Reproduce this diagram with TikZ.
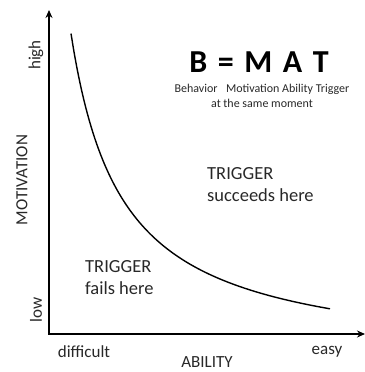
\documentclass[tikz,border=0pt]{standalone}
\usepackage{fontspec}
\setmainfont{Carlito}
\usepackage{xcolor}
\usepackage{tikz}
\usetikzlibrary{arrows.meta, positioning}
\definecolor{inkgray}{RGB}{40,40,40}

\tikzset{
    axisline/.style={line width=1.5pt, draw=black},
    axislabel/.style={font=\fontsize{17}{20}\selectfont, text=inkgray, inner sep=0pt},
    zone/.style={font=\fontsize{18.5}{22}\selectfont, text=inkgray, align=left, inner sep=0pt}
}

\begin{document}
\begin{tikzpicture}[x=1pt, y=1pt]
\useasboundingbox (0,0) rectangle (364,372);

% axes
\coordinate (origin) at (49,38);
\coordinate (ytop) at (49,362);
\coordinate (xend) at (365,38);
\draw[axisline, {Stealth[length=8pt, width=7pt]}-{Stealth[length=8pt, width=7pt]}]
    (ytop) -- (origin) -- (xend);

% action line
\draw[line width=1.4pt, domain=71:330, samples=80, smooth]
    plot (\x, {9 + 168/((\x-20)/100)});

% axis labels
\node[axislabel, rotate=90] (high) at (36,317) {high};
\node[axislabel, rotate=90] (low) at (36,62) {low};
\node[axislabel, rotate=90] (motivation) at (22,192) {MOTIVATION};
\node[axislabel] (difficult) at (84,20) {difficult};
\node[axislabel] (easy) at (327,20) {easy};
\node[axislabel] (ability) at (207,10) {ABILITY};

% formula
\node[font=\fontsize{32}{36}\selectfont\bfseries, inner sep=0pt] (bmat) at (259,310)
    {B\hspace{0.33em}=\hspace{0.33em}M\hspace{0.33em}A\hspace{0.33em}T};
\node[font=\fontsize{12}{14}\selectfont, text=inkgray, inner sep=0pt] (words) at (262,283)
    {Behavior\hspace{0.7em}Motivation Ability Trigger};
\node[font=\fontsize{12}{14}\selectfont, text=inkgray, inner sep=0pt] (moment) at (262,269)
    {at the same moment};

% regions
\node[zone, anchor=north west] (succeeds) at (207,205) {TRIGGER\\succeeds here};
\node[zone, anchor=north west] (fails) at (85,112) {TRIGGER\\fails here};
\end{tikzpicture}
\end{document}
